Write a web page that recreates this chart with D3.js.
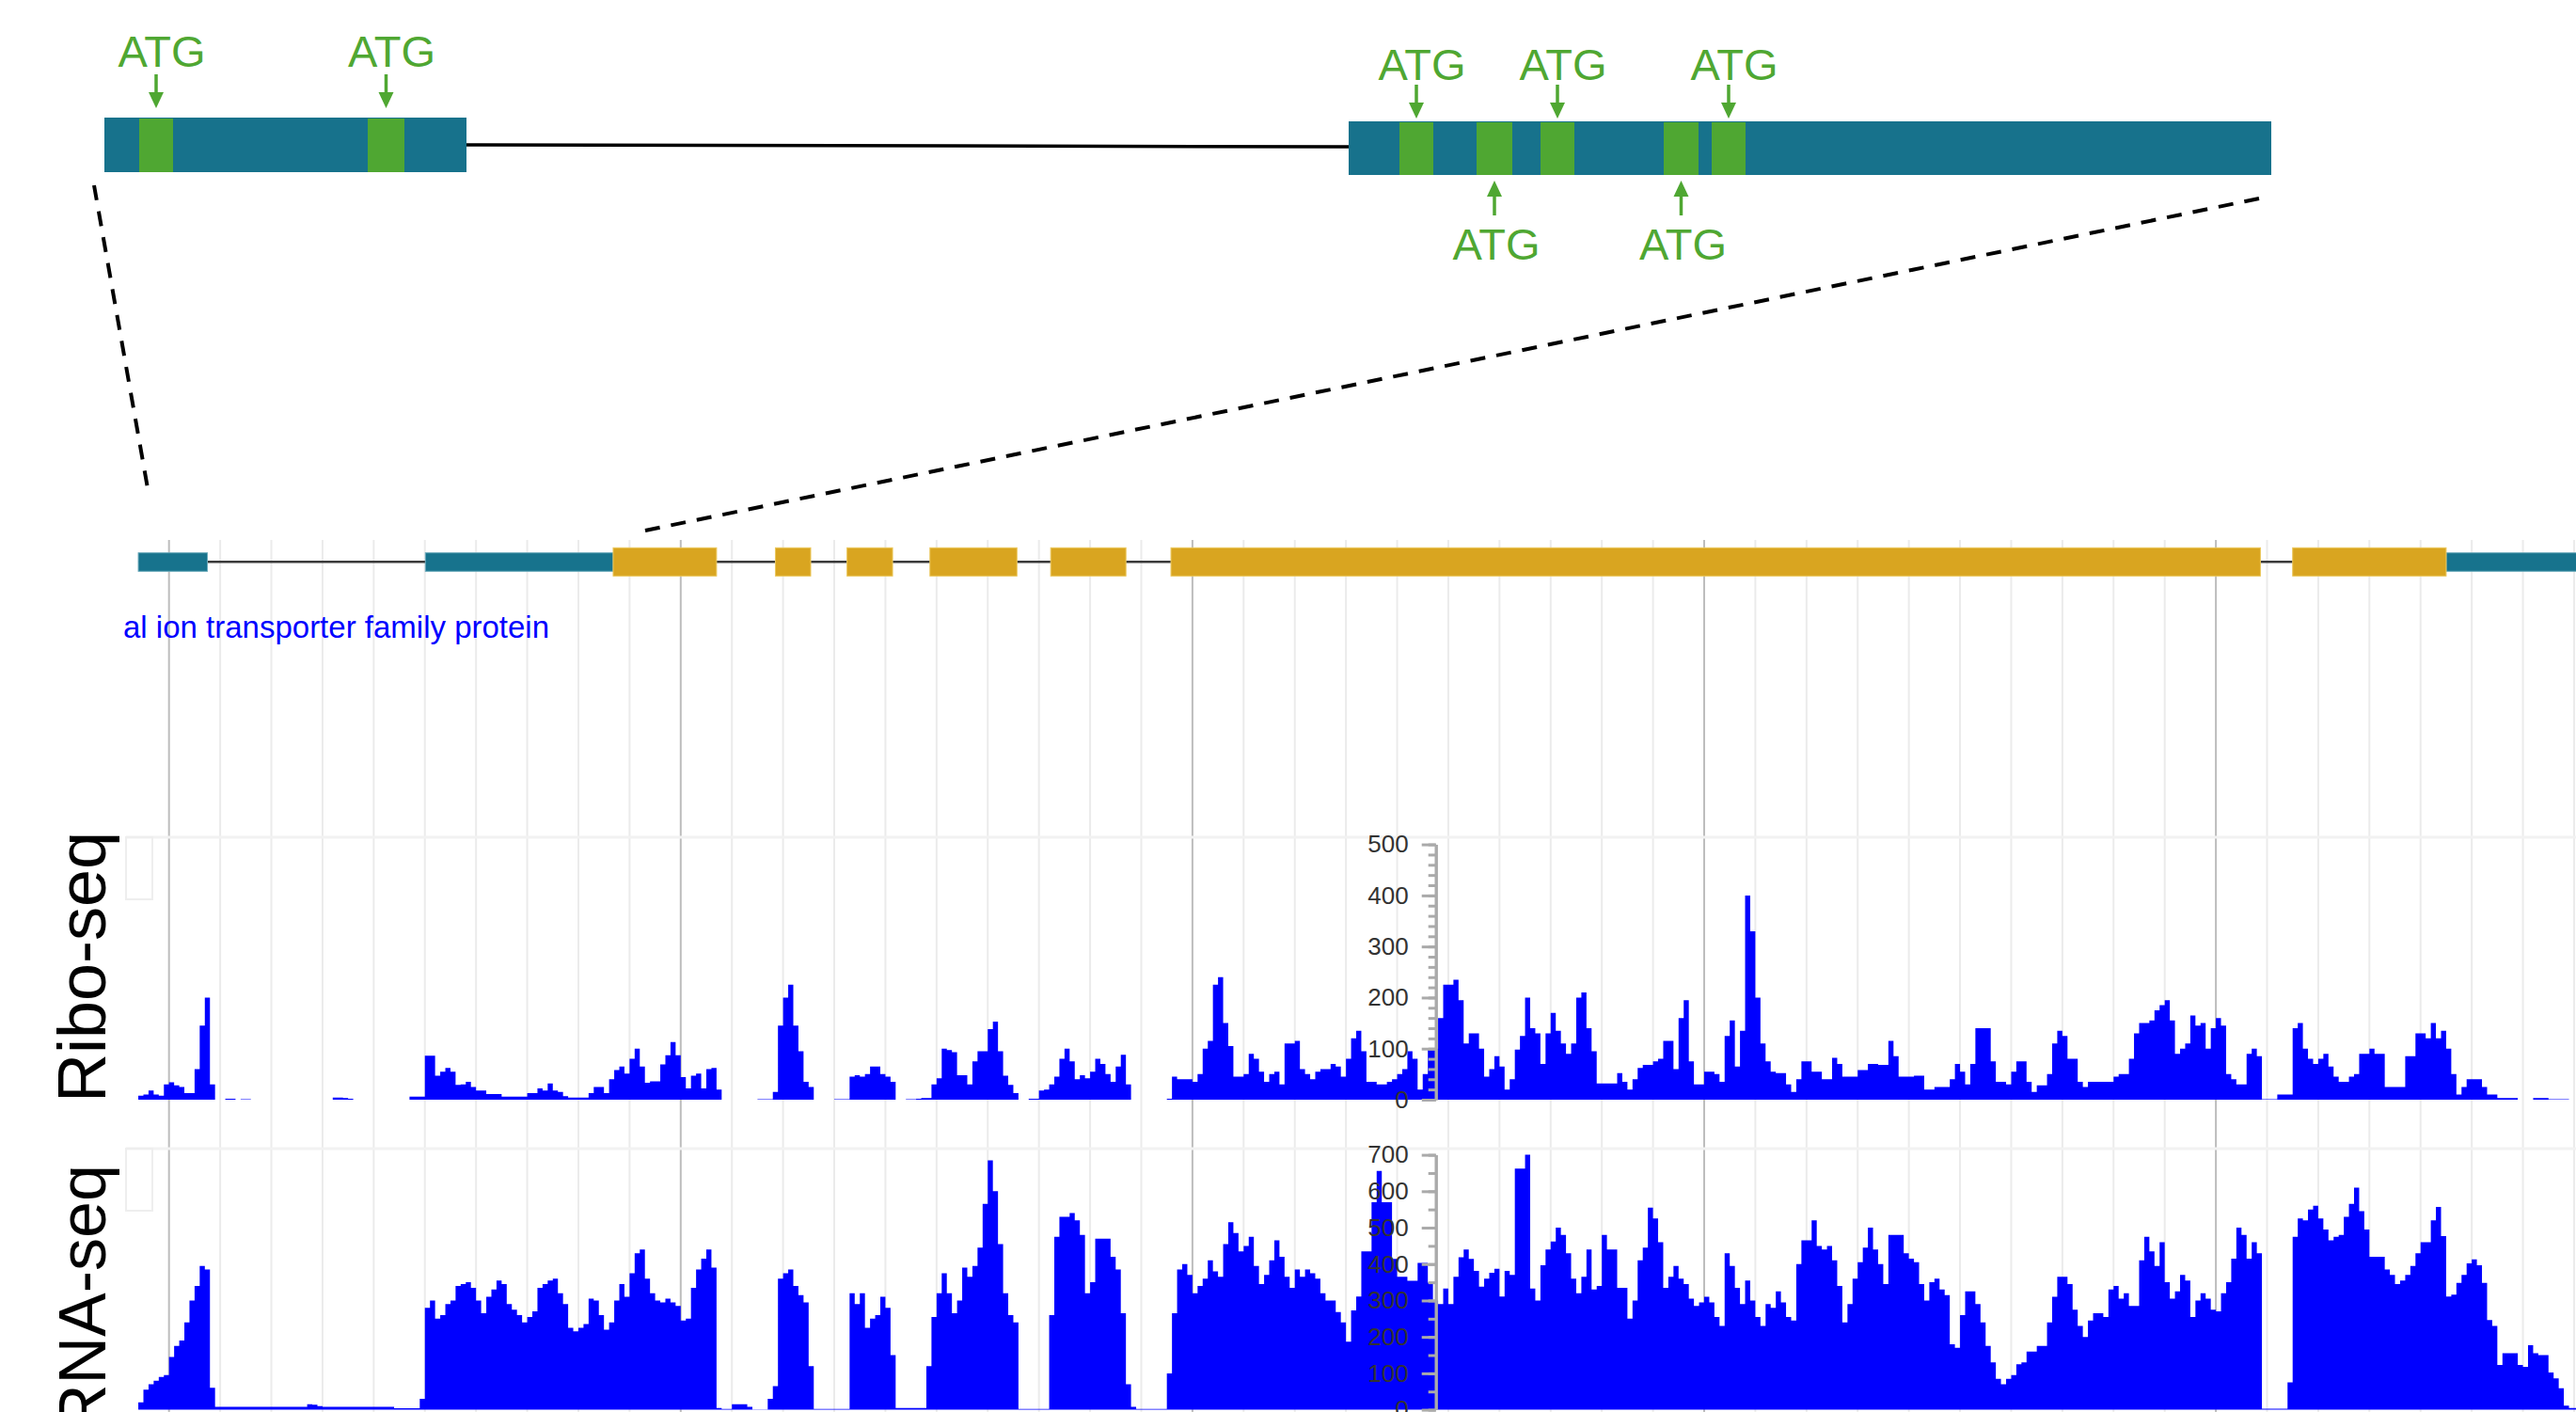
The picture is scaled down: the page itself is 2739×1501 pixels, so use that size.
<!DOCTYPE html>
<html lang="en">
<head>
<meta charset="utf-8">
<title>Ribo-seq and RNA-seq coverage</title>
<script src="https://d3js.org/d3.v7.min.js"></script>
<style>
  body { margin: 0; background: #fff; }
  text { font-family: "Liberation Sans", Arial, sans-serif; }
</style>
</head>
<body>
<svg id="fig" width="2739" height="1501"></svg>
<script>
// coverage bins: 10 bp each, first bin starts at 940
var binStart = 940, binSize = 10;

var riboVals = [8,10,18,10,8,30,34,28,25,13,
  13,60,145,200,30,0,0,2,2,0, 1,1,0,0,0,0,0,0,0,0, 0,0,0,0,0,0,0,0,4,4,
  3,2,0,0,0,0,0,0,0,0, 0,0,0,6,6,6,86,86,47,55, 62,55,29,30,35,25,18,18,11,11,
  11,6,6,6,6,6,13,13,22,18, 32,18,15,7,4,4,4,4,13,25, 25,13,40,58,65,51,80,100,65,33,
  36,36,69,87,113,87,44,22,47,51, 22,60,62,20,0,0,0,0,0,0, 0,1,1,1,15,145,200,225,145,95,
  35,25,0,0,0,0,1,1,1,45, 48,45,50,65,65,50,45,35,0,0, 1,1,2,3,3,30,42,100,97,93,
  48,48,30,75,95,95,138,153,95,47, 29,13,0,0,2,2,18,20,30,45, 80,100,75,40,48,42,55,80,70,50,
  35,65,88,30,0,0,0,0,0,0, 0,2,45,40,40,40,35,50,100,115, 225,240,150,105,45,45,50,90,80,55,
  35,50,55,30,110,110,115,60,50,40, 55,60,60,70,65,45,80,120,135,95, 35,35,30,30,35,40,50,60,95,80,
  20,50,100,100,160,225,225,235,195,110, 130,130,100,45,60,85,65,20,40,98, 125,200,140,130,70,130,170,135,110,90,
  110,200,210,140,95,32,32,32,32,52, 35,20,40,62,68,68,75,80,115,115, 60,160,195,75,30,30,55,55,50,35,
  125,155,65,135,400,330,200,110,75,55, 52,52,30,15,40,75,75,55,55,40, 40,82,70,45,45,45,58,58,70,70,
  68,68,115,85,45,45,45,47,47,20, 20,25,25,25,40,70,55,30,70,140, 140,140,75,35,35,30,55,75,75,35,
  15,28,28,50,110,135,125,80,80,35, 25,35,35,35,35,35,45,50,50,80, 130,150,150,155,175,185,195,155,90,100,
  110,165,145,150,100,140,160,145,50,40, 30,30,90,100,85,1,1,1,10,10, 10,140,150,100,80,70,80,90,65,45,
  35,35,45,50,90,90,100,90,90,25, 25,25,25,85,85,130,130,120,150,120, 135,100,50,10,25,40,40,40,25,10,
  10,3,3,3,3,0,0,0,3,3, 3,1,1,1,1,0,0];

var rnaVals = [20,55,70,80,90,95,145,175,190,240,
  300,340,395,385,60,8,8,8,8,8, 8,8,8,8,8,8,8,8,8,8, 8,8,8,15,14,10,8,8,8,8,
  8,8,8,8,8,8,8,8,8,8, 4,4,4,4,4,30,280,300,250,260, 290,300,340,345,350,335,300,265,310,330,
  355,345,290,275,260,240,255,270,335,345, 355,360,320,290,225,215,225,235,305,300, 260,220,240,300,345,310,375,430,440,360,
  320,300,295,305,295,285,245,250,335,385, 415,440,390,5,2,2,15,15,15,8, 1,1,1,30,65,360,375,385,340,315,
  295,120,2,2,2,2,2,2,2,320, 290,320,225,250,260,310,280,150,5,5, 5,5,5,5,120,255,320,375,320,265,
  300,390,365,395,445,565,685,600,455,320, 260,240,2,2,2,2,2,2,260,475, 530,530,540,520,480,320,350,470,470,470,
  420,385,265,70,8,2,2,2,2,2, 2,100,265,385,400,370,320,340,360,410, 380,365,455,515,485,435,450,475,395,345,
  370,410,465,420,365,335,385,365,385,375, 360,320,300,300,268,240,187,273,311,435, 435,570,656,570,570,414,365,365,354,354,
  403,403,349,300,290,333,290,365,419,440, 414,381,338,360,376,387,311,381,370,662, 662,700,333,300,397,440,462,500,480,430,
  360,320,365,440,330,340,480,440,440,335, 335,250,300,410,445,555,525,460,335,365, 395,360,345,305,285,295,310,295,255,230,
  430,395,335,290,355,300,255,230,290,280, 325,295,255,245,400,465,465,520,450,440, 450,410,340,240,290,360,405,445,500,440,
  400,345,480,480,480,430,415,405,345,300, 350,360,330,315,180,170,260,325,325,290, 240,175,130,85,70,85,95,125,130,160,
  160,175,175,240,310,365,365,345,275,230, 200,245,265,265,255,330,340,305,320,285, 285,410,475,435,395,460,350,305,325,370,
  355,255,300,320,305,275,270,320,350,415, 500,480,415,460,430,3,3,3,3,3, 75,475,525,520,550,560,525,495,465,475,
  480,530,565,610,545,495,420,420,420,385, 370,345,355,370,395,430,460,460,520,557, 477,311,316,348,370,402,413,397,348,246,
  230,123,155,155,155,123,118,177,155,150, 150,102,86,59,11,5,5];

// gene model (genomic coordinates)
var utrExons = [[940, 1075], [1501, 1868], [5450, 5720]];
var cdsExons = [[1868, 2070], [2185, 2254], [2325, 2414], [2487, 2657], [2723, 2870], [2958, 5087], [5150, 5450]];
var geneName = "al ion transporter family protein";

var riboTicks = [0, 100, 200, 300, 400, 500];
var rnaTicks = [0, 100, 200, 300, 400, 500, 600, 700];

// transcript schematic (transcript units)
var topExons = [[0, 385, 0], [1323, 2304, 1]];
var atgBoxes = [[37, 73, "top", 0], [280, 319, "top", 0], [1377, 1413, "top", 1], [1459, 1497, "bottom", 1],
  [1527, 1563, "top", 1], [1658, 1695, "bottom", 1], [1709, 1745, "top", 1]];

var svg = d3.select("#fig");

var x = d3.scaleLinear().domain([1000, 5000]).range([179.7, 2356.1]);
var yRibo = d3.scaleLinear().domain([0, 500]).range([1169, 897.6]);
var yRna = d3.scaleLinear().domain([0, 700]).range([1498.6, 1227.6]);
var tx = d3.scaleLinear().domain([0, 2304]).range([111, 2415]);

// ---- top transcript schematic ----
var boxY = [[125, 183], [129, 186]];
var schem = svg.append("g");
schem.append("line").attr("x1", tx(385)).attr("y1", 154).attr("x2", tx(1323)).attr("y2", 156)
  .attr("stroke", "#000").attr("stroke-width", 3.5);
schem.selectAll("rect.exon").data(topExons).enter().append("rect").attr("class", "exon")
  .attr("x", d => tx(d[0])).attr("width", d => tx(d[1]) - tx(d[0]))
  .attr("y", d => boxY[d[2]][0]).attr("height", d => boxY[d[2]][1] - boxY[d[2]][0])
  .attr("fill", "#17728c");
schem.selectAll("rect.atg").data(atgBoxes).enter().append("rect").attr("class", "atg")
  .attr("x", d => tx(d[0])).attr("width", d => tx(d[1]) - tx(d[0]))
  .attr("y", d => boxY[d[3]][0] + 1).attr("height", d => boxY[d[3]][1] - boxY[d[3]][0] - 1)
  .attr("fill", "#4fa732");

var green = "#4fa732";
atgBoxes.forEach(function (d) {
  var cx = (tx(d[0]) + tx(d[1])) / 2;
  var g = schem.append("g");
  if (d[2] === "top") {
    var base = d[3] === 0 ? 71 : 85;
    var tail = d[3] === 0 ? 79 : 90, tip = d[3] === 0 ? 115 : 126;
    g.append("line").attr("x1", cx).attr("x2", cx).attr("y1", tail).attr("y2", tip - 14)
      .attr("stroke", green).attr("stroke-width", 3.5);
    g.append("path").attr("d", "M" + (cx - 8) + "," + (tip - 17) + "L" + (cx + 8) + "," + (tip - 17) + "L" + cx + "," + tip + "Z")
      .attr("fill", green);
    g.append("text").attr("x", cx + 6).attr("y", base).attr("text-anchor", "middle")
      .attr("font-size", 47).attr("fill", green).text("ATG");
  } else {
    var tip2 = 192, tail2 = 229;
    g.append("line").attr("x1", cx).attr("x2", cx).attr("y1", tip2 + 14).attr("y2", tail2)
      .attr("stroke", green).attr("stroke-width", 3.5);
    g.append("path").attr("d", "M" + (cx - 8) + "," + (tip2 + 17) + "L" + (cx + 8) + "," + (tip2 + 17) + "L" + cx + "," + tip2 + "Z")
      .attr("fill", green);
    g.append("text").attr("x", cx + 2).attr("y", 276).attr("text-anchor", "middle")
      .attr("font-size", 47).attr("fill", green).text("ATG");
  }
});

// zoom guide lines
svg.append("line").attr("x1", 100).attr("y1", 197).attr("x2", 157).attr("y2", 519)
  .attr("stroke", "#000").attr("stroke-width", 4).attr("stroke-dasharray", "16,12");
svg.append("line").attr("x1", 2402).attr("y1", 211).attr("x2", 686).attr("y2", 564)
  .attr("stroke", "#000").attr("stroke-width", 4).attr("stroke-dasharray", "16,12");

// ---- grid ----
svg.append("g").selectAll("line").data(d3.range(1000, 5701, 100)).enter().append("line")
  .attr("x1", d => x(d)).attr("x2", d => x(d)).attr("y1", 574).attr("y2", 1501)
  .attr("stroke", d => d % 1000 === 0 ? "#bdbdbd" : "#ebebeb").attr("stroke-width", 2);

// ---- gene model ----
var gm = svg.append("g");
gm.append("line").attr("x1", x(940)).attr("x2", 2739).attr("y1", 597.3).attr("y2", 597.3)
  .attr("stroke", "#3a3a3a").attr("stroke-width", 2.5);
gm.selectAll("rect.utr").data(utrExons).enter().append("rect").attr("class", "utr")
  .attr("x", d => x(d[0])).attr("width", d => x(d[1]) - x(d[0]))
  .attr("y", 587.7).attr("height", 19.6).attr("fill", "#17738d").attr("stroke", "#6aa9bb").attr("stroke-width", 1);
gm.selectAll("rect.cds").data(cdsExons).enter().append("rect").attr("class", "cds")
  .attr("x", d => x(d[0])).attr("width", d => x(d[1]) - x(d[0]))
  .attr("y", 582.3).attr("height", 30).attr("fill", "#d9a520").attr("stroke", "#ebc75c").attr("stroke-width", 1);
gm.append("text").attr("x", 131).attr("y", 678).attr("font-size", 33).attr("fill", "#0000ff").text(geneName);

// ---- track frames ----
[890, 1221].forEach(function (t) {
  svg.append("line").attr("x1", 134).attr("x2", 2739).attr("y1", t).attr("y2", t)
    .attr("stroke", "#f2f2f2").attr("stroke-width", 3);
  svg.append("rect").attr("x", 134).attr("y", t).attr("width", 28).attr("height", 66)
    .attr("fill", "none").attr("stroke", "#eeeeee").attr("stroke-width", 2);
});

// ---- coverage tracks ----
function binData(vals) {
  var pts = vals.map((v, i) => ({ p: binStart + i * binSize, v: v }));
  pts.push({ p: binStart + vals.length * binSize, v: vals[vals.length - 1] });
  return pts;
}
var riboArea = d3.area().curve(d3.curveStepAfter).x(d => x(d.p)).y0(yRibo(0)).y1(d => yRibo(d.v));
var rnaArea = d3.area().curve(d3.curveStepAfter).x(d => x(d.p)).y0(yRna(0)).y1(d => yRna(d.v));
svg.append("path").datum(binData(riboVals)).attr("d", riboArea).attr("fill", "#0000ff");
svg.append("path").datum(binData(rnaVals)).attr("d", rnaArea).attr("fill", "#0000ff");

// ---- axes ----
function styleAxis(g) {
  g.attr("font-family", "'Liberation Sans', Arial, sans-serif");
  g.select(".domain").attr("stroke", "#aaaaaa").attr("stroke-width", 3);
  g.selectAll(".tick line").attr("stroke", "#aaaaaa").attr("stroke-width", 3);
  g.selectAll(".tick text").attr("font-size", 26).attr("fill", "#333");
}
var axX = 1526.7;
var rMinor = svg.append("g").attr("transform", "translate(" + axX + ",0)")
  .call(d3.axisLeft(yRibo).tickValues(d3.range(0, 501, 20)).tickSize(8).tickSizeOuter(0).tickFormat(""));
styleAxis(rMinor);
var rMajor = svg.append("g").attr("transform", "translate(" + axX + ",0)")
  .call(d3.axisLeft(yRibo).tickValues(riboTicks).tickSize(15).tickSizeOuter(0).tickPadding(14));
styleAxis(rMajor);
var nMinor = svg.append("g").attr("transform", "translate(" + axX + ",0)")
  .call(d3.axisLeft(yRna).tickValues(d3.range(0, 701, 50)).tickSize(8).tickSizeOuter(0).tickFormat(""));
styleAxis(nMinor);
var nMajor = svg.append("g").attr("transform", "translate(" + axX + ",0)")
  .call(d3.axisLeft(yRna).tickValues(rnaTicks).tickSize(15).tickSizeOuter(0).tickPadding(14));
styleAxis(nMajor);

// ---- track labels ----
svg.append("text").attr("transform", "translate(112,1028) rotate(-90)").attr("text-anchor", "middle")
  .attr("font-size", 72).attr("fill", "#000").text("Ribo-seq");
svg.append("text").attr("transform", "translate(112,1380) rotate(-90)").attr("text-anchor", "middle")
  .attr("font-size", 70).attr("fill", "#000").text("RNA-seq");
</script>
</body>
</html>
